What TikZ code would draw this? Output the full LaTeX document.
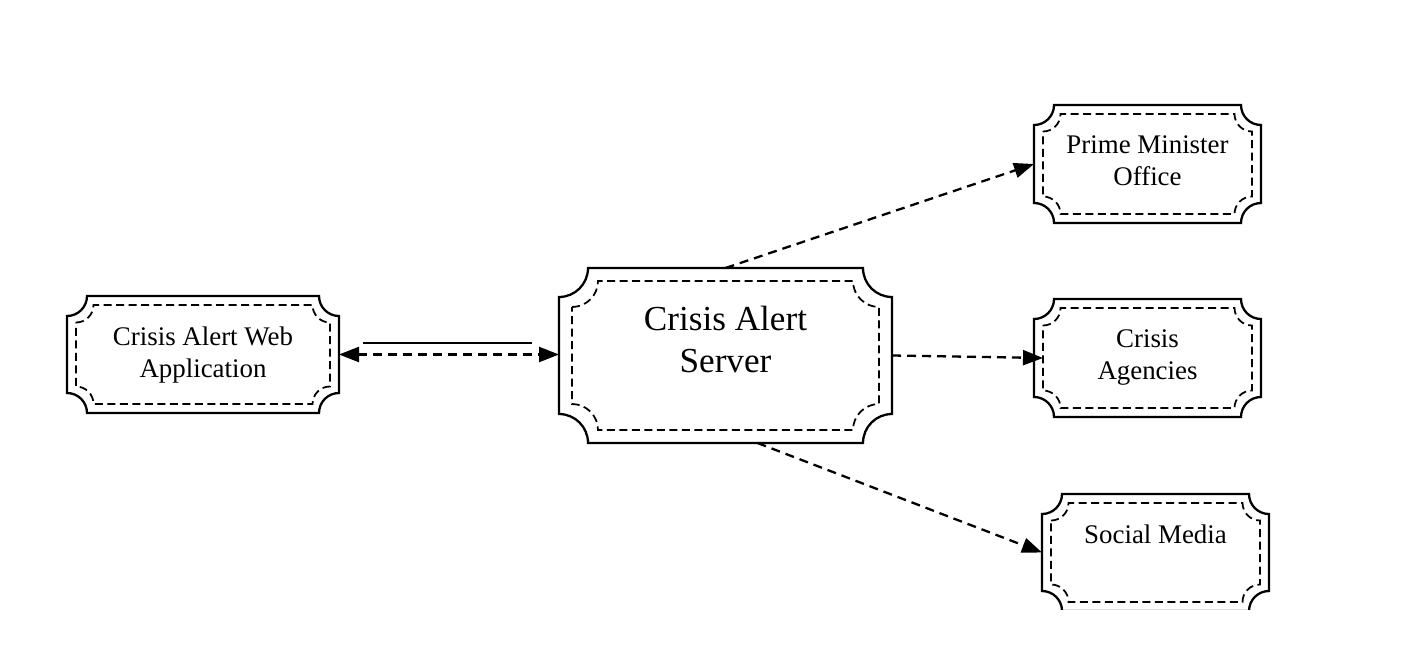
\documentclass[tikz,border=0pt]{standalone}
\usepackage{fontspec}
\setmainfont{Liberation Serif}
\usetikzlibrary{arrows.meta}

% 凹角方框: 节点名, 外圆角, 内缩, 内圆角
\newcommand{\plaquebox}[4]{%
    \draw[outerline] ([yshift=-#2]#1.north west) arc[start angle=270, end angle=360, radius=#2]
        -- ([xshift=-#2]#1.north east) arc[start angle=180, end angle=270, radius=#2]
        -- ([yshift=#2]#1.south east) arc[start angle=90, end angle=180, radius=#2]
        -- ([xshift=#2]#1.south west) arc[start angle=0, end angle=90, radius=#2] -- cycle;
    \draw[innerline] ([shift={(#3,-#3-#4)}]#1.north west) arc[start angle=270, end angle=360, radius=#4]
        -- ([shift={(-#3-#4,-#3)}]#1.north east) arc[start angle=180, end angle=270, radius=#4]
        -- ([shift={(-#3,#3+#4)}]#1.south east) arc[start angle=90, end angle=180, radius=#4]
        -- ([shift={(#3+#4,#3)}]#1.south west) arc[start angle=0, end angle=90, radius=#4] -- cycle;
}

\begin{document}
\begin{tikzpicture}[
        >={Triangle[length=0.4cm, width=0.3cm]},
        plaque/.style={rectangle, draw=none, inner sep=0pt, outer sep=0pt},
        outerline/.style={line width=1.3pt},
        innerline/.style={line width=1pt, dash pattern=on 0.16cm off 0.09cm},
        boxtext/.style={anchor=north, yshift=-0.6cm, align=center, inner sep=0pt,
            font=\fontsize{15.3}{18.6}\selectfont},
        link/.style={line width=1.3pt, dash pattern=on 0.18cm off 0.12cm, ->}
    ]

        % 画布大小
        \useasboundingbox (0,0) rectangle (28.04,12.92);
        \clip (0,0.74) rectangle (28.04,12.92);

        % 方框位置
        \node[plaque, minimum width=5.44cm, minimum height=2.34cm,
            label={[boxtext]north:{Crisis Alert Web\\Application}}] (web) at (4.06,5.83) {};
        \node[plaque, minimum width=6.66cm, minimum height=3.5cm,
            label={[boxtext, yshift=-0.16cm, font=\fontsize{20}{23.9}\selectfont]north:{Crisis Alert\\Server}}] (server) at (14.51,5.81) {};
        \node[plaque, minimum width=4.54cm, minimum height=2.36cm,
            label={[boxtext]north:{Prime Minister\\Office}}] (pmo) at (22.95,9.64) {};
        \node[plaque, minimum width=4.54cm, minimum height=2.36cm,
            label={[boxtext]north:{Crisis\\Agencies}}] (agency) at (22.95,5.76) {};
        \node[plaque, minimum width=4.54cm, minimum height=2.34cm,
            label={[boxtext]north:{Social Media}}] (social) at (23.11,1.87) {};

        % 绘制方框
        \foreach \n in {web, pmo, agency, social} {
            \plaquebox{\n}{0.4cm}{0.18cm}{0.35cm}
        }
        \plaquebox{server}{0.58cm}{0.26cm}{0.52cm}

        % 网页与服务器之间
        \coordinate (wa) at ([yshift=0.23cm]web.east);
        \draw[line width=1.3pt, shorten <=0.48cm, shorten >=0.54cm] (wa) -- (wa -| server.west);
        \draw[link, <->] (web.east) -- (web.east -| server.west);

        % 服务器发出的通知
        \draw[link] (server.north) -- (pmo.west);
        \draw[link] (server.east) -- ([xshift=0.18cm]agency.west);
        \draw[link] ([xshift=0.64cm]server.south) -- (social.west);

    \end{tikzpicture}
\end{document}
